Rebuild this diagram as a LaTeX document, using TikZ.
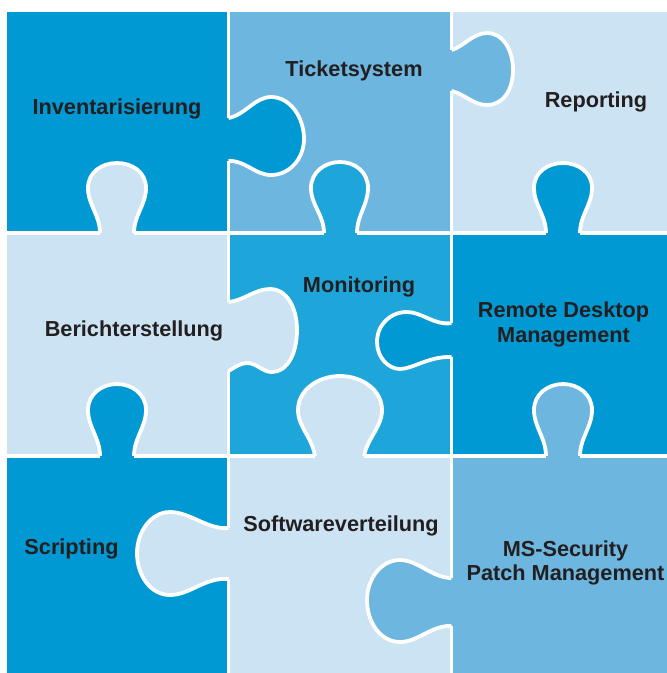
\documentclass[tikz,border=0pt]{standalone}
\usepackage{fontspec}
\setmainfont{Liberation Sans}
\definecolor{cdeep}{HTML}{0099D4}
\definecolor{cmid}{HTML}{1EA5D9}
\definecolor{csoft}{HTML}{6CB6E0}
\definecolor{cpale}{HTML}{CCE3F3}
\definecolor{ink}{HTML}{231F20}
\tikzset{
  seam/.style={draw=white,line width=3.8pt,fill=none},
  label/.style={text=ink,font=\bfseries\fontsize{21.7}{24.5}\selectfont,align=center,inner sep=0pt},
}
% #1 colour, #2 #3 corners of the patch over the grid line, #4 open outline of the tab
\newcommand{\jigtab}[4]{%
  \fill[#1] #4 -- cycle;
  \fill[#1] #2 rectangle #3;
  \draw[seam] #4;
}
\begin{document}
\begin{tikzpicture}[x=1pt,y=-1pt]
\useasboundingbox (0,0) rectangle (667,673);
\fill[white] (0,0) rectangle (667,673);
% pieces
\fill[cdeep] (7,12) rectangle (228.5,233);
\fill[csoft] (228.5,12) rectangle (451.5,233);
\fill[cpale] (451.5,12) rectangle (667,233);
\fill[cpale] (7,233) rectangle (228.5,456);
\fill[cmid] (228.5,233) rectangle (451.5,456);
\fill[cdeep] (451.5,233) rectangle (667,456);
\fill[cdeep] (7,456) rectangle (228.5,673);
\fill[cpale] (228.5,456) rectangle (451.5,673);
\fill[csoft] (451.5,456) rectangle (667,673);
% seams
\draw[seam] (228.5,12) -- (228.5,673);
\draw[seam] (451.5,12) -- (451.5,673);
\draw[seam] (7,233) -- (667,233);
\draw[seam] (7,456) -- (667,456);
% tabs pointing right
\jigtab{cdeep}{(224,118)}{(232,161)}{(228.5,118) .. controls (245,115) and (255,97) .. (271,97) .. controls (290,97) and (304,117) .. (304,139) .. controls (304,158) and (290,175) .. (271,175) .. controls (255,175) and (245,160) .. (228.5,161)}
\jigtab{csoft}{(447,50)}{(455,91)}{(451.5,50) .. controls (463,47) and (473,33) .. (487,33) .. controls (503,33) and (513,50) .. (513,70) .. controls (513,90) and (503,105) .. (487,105) .. controls (473,105) and (465,94) .. (451.5,91)}
\jigtab{cpale}{(224,302)}{(232,371)}{(228.5,302) .. controls (243,301) and (255,289) .. (270,289) .. controls (287,289) and (297,308) .. (297,330) .. controls (297,354) and (287,372) .. (272,372) .. controls (262,372) and (257,363) .. (247,363) .. controls (240,363) and (234,368) .. (228.5,371)}
% tabs pointing left
\jigtab{cdeep}{(447,323)}{(455,357)}{(451.5,323) .. controls (435,326) and (422,312) .. (407,312) .. controls (390,312) and (377,325) .. (377,342) .. controls (377,357) and (388,369) .. (400,369) .. controls (412,369) and (430,356) .. (451.5,357)}
\jigtab{cpale}{(224,528)}{(232,579)}{(228.5,528) .. controls (208,530) and (190,512) .. (170,512) .. controls (151,512) and (137,532) .. (137,553) .. controls (137,576) and (151,595) .. (170,595) .. controls (190,595) and (205,577) .. (228.5,579)}
\jigtab{csoft}{(447,578)}{(455,626)}{(451.5,578) .. controls (432,578) and (418,560) .. (400,560) .. controls (381,560) and (367,579) .. (367,600) .. controls (367,623) and (381,642) .. (400,642) .. controls (418,642) and (432,625) .. (451.5,626)}
% tabs pointing up
\jigtab{cmid}{(324,229)}{(357,237)}{(324,233) .. controls (324,215) and (311,205) .. (311,188) .. controls (311,172) and (325,162) .. (340,162) .. controls (355,162) and (368,172) .. (368,188) .. controls (368,205) and (357,215) .. (357,233)}
\jigtab{cpale}{(100,229)}{(134,237)}{(100,233) .. controls (100,215) and (88,205) .. (88,188) .. controls (88,172) and (102,163) .. (117,163) .. controls (132,163) and (146,172) .. (146,188) .. controls (146,205) and (134,215) .. (134,233)}
\jigtab{cdeep}{(546,229)}{(580,237)}{(546,233) .. controls (546,215) and (534,205) .. (534,188) .. controls (534,172) and (548,163) .. (563,163) .. controls (578,163) and (592,172) .. (592,188) .. controls (592,205) and (580,215) .. (580,233)}
\jigtab{cdeep}{(100,452)}{(134,460)}{(100,456) .. controls (100,438) and (88,427) .. (88,410) .. controls (88,394) and (102,384) .. (117,384) .. controls (132,384) and (146,394) .. (146,410) .. controls (146,427) and (134,438) .. (134,456)}
\jigtab{cpale}{(315,452)}{(364,460)}{(315,456) .. controls (312,437) and (298,427) .. (298,410) .. controls (298,390) and (318,376) .. (340,376) .. controls (362,376) and (382,390) .. (382,410) .. controls (382,427) and (368,437) .. (364,456)}
\jigtab{csoft}{(546,452)}{(580,460)}{(546,456) .. controls (546,438) and (534,427) .. (534,410) .. controls (534,394) and (548,384) .. (563,384) .. controls (578,384) and (592,394) .. (592,410) .. controls (592,427) and (580,438) .. (580,456)}
% labels
\node[label] (inv) at (117,109) {Inventarisierung};
\node[label] (tic) at (354,71) {Ticketsystem};
\node[label] (rep) at (596,102) {Reporting};
\node[label] (ber) at (134,331) {Berichterstellung};
\node[label] (mon) at (359,287) {Monitoring};
\node[label] (rem) at (563.5,324.5) {Remote Desktop\\Management};
\node[label] (scr) at (71.5,549) {Scripting};
\node[label] (sof) at (341,525.5) {Softwareverteilung};
\node[label] (sec) at (565.5,563) {MS-Security\\Patch Management};
\end{tikzpicture}
\end{document}
